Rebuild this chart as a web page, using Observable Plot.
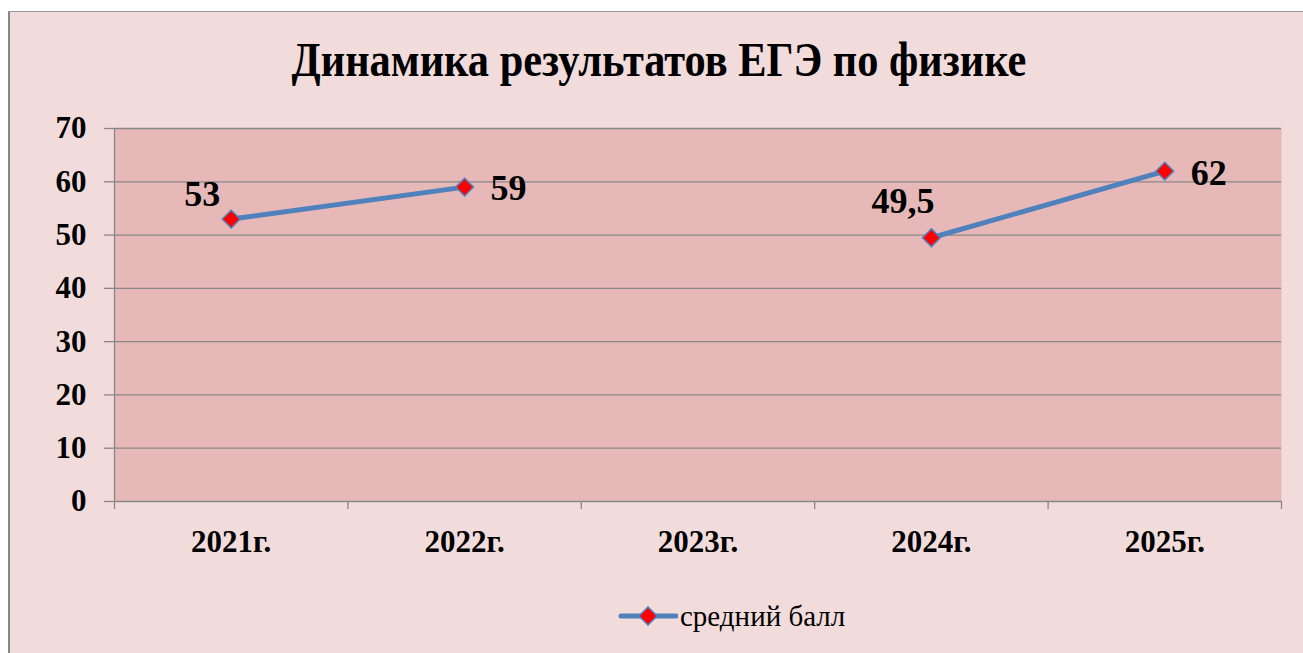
<!DOCTYPE html>
<html>
<head>
<meta charset="utf-8">
<script src="https://cdn.jsdelivr.net/npm/d3@7"></script>
<script src="https://cdn.jsdelivr.net/npm/@observablehq/plot@0.6"></script>
<style>
  html, body { margin: 0; padding: 0; background: #ffffff; width: 1303px; height: 653px; overflow: hidden; }
  #frame { position: absolute; left: 8px; top: 11px; width: 1295px; height: 642px; background: #F2DCDB;
           border-left: 2px solid #878787; border-top: 1px solid #999999; box-sizing: border-box; }
  #title { position: absolute; left: 0; top: 37px; width: 1318px; text-align: center;
           font-family: "Liberation Serif", "Times New Roman", serif; font-weight: bold; font-size: 42.4px; line-height: 42px; color: #000;
           transform: scaleY(1.12); transform-origin: center top; white-space: nowrap; }
  #chart { position: absolute; left: 0; top: 0; }
  #legend { position: absolute; left: 618px; top: 598px; height: 36px; display: flex; align-items: center;
            font-family: "Liberation Serif", "Times New Roman", serif; font-size: 29px; color: #000; }
</style>
</head>
<body>
<div id="frame"></div>
<div id="title">Динамика результатов ЕГЭ по физике</div>
<div id="chart"></div>
<div id="legend">
  <svg width="60" height="24" style="margin-right:2px">
    <line x1="3" y1="12" x2="58" y2="12" stroke="#4F81BD" stroke-width="5" stroke-linecap="round"></line>
    <path d="M30,3 L39,12 L30,21 L21,12 Z" fill="#FF0000" stroke="#4F81BD" stroke-width="1.5"></path>
  </svg>
  <span id="legend-label"></span>
</div>
<script>
const years = ["2021г.", "2022г.", "2023г.", "2024г.", "2025г."];
const scores = [53, 59, null, 49.5, 62];
const yTicks = [0, 10, 20, 30, 40, 50, 60, 70];
const seriesName = "средний балл";

document.getElementById("legend-label").textContent = seriesName;

const data = years.map((year, i) => ({i, year, score: scores[i]}));
const pts = data.filter(d => d.score != null);
const fmt = v => String(v).replace(".", ",");
const boundaries = d3.range(-0.5, years.length, 1);
const centers = d3.range(0, years.length);

const serif = "'Liberation Serif', 'Times New Roman', serif";
const labelFont = {fontSize: 36, fontWeight: "bold", fill: "#000", fontFamily: serif};
const lab = (idx, opts) => Plot.text(pts.filter(d => d.i === idx), {x: "i", y: "score", text: d => fmt(d.score), ...labelFont, ...opts});

const chart = Plot.plot({
  width: 1303,
  height: 653,
  marginLeft: 114,
  marginRight: 22,
  marginTop: 128,
  marginBottom: 152,
  style: {background: "transparent", fontFamily: serif, color: "#000"},
  x: {type: "linear", domain: [-0.5, years.length - 0.5]},
  y: {domain: [0, 70]},
  marks: [
    Plot.frame({fill: "#E6B8B7", stroke: null}),
    Plot.ruleY(yTicks, {stroke: "#878787", strokeWidth: 1.3}),
    Plot.ruleX([-0.5], {stroke: "#878787", strokeWidth: 1.3}),
    Plot.axisY({ticks: yTicks, tickSize: 10, tickPadding: 18, fontSize: 31, fontWeight: "bold", fontFamily: serif, stroke: "#878787", strokeWidth: 1.3, label: null, tickFormat: d => String(d)}),
    Plot.axisX({ticks: boundaries, tickSize: 8, tickFormat: () => "", stroke: "#878787", strokeWidth: 1.3, label: null}),
    Plot.axisX({ticks: centers, tickSize: 0, tickPadding: 28, fontSize: 31, fontWeight: "bold", fontFamily: serif, tickFormat: i => years[i], label: null}),
    Plot.line(data, {x: "i", y: "score", stroke: "#4F81BD", strokeWidth: 5, strokeLinecap: "round", strokeLinejoin: "round"}),
    Plot.dot(pts, {x: "i", y: "score", symbol: "diamond2", r: 8, fill: "#FF0000", stroke: "#4F81BD", strokeWidth: 1.5}),
    lab(0, {textAnchor: "end", dx: -11, dy: -24.5}),
    lab(1, {textAnchor: "start", dx: 26, dy: 1.5}),
    lab(3, {textAnchor: "end", dx: 3, dy: -36.5}),
    lab(4, {textAnchor: "start", dx: 26, dy: 2.5})
  ]
});
document.getElementById("chart").appendChild(chart);
</script>
</body>
</html>
